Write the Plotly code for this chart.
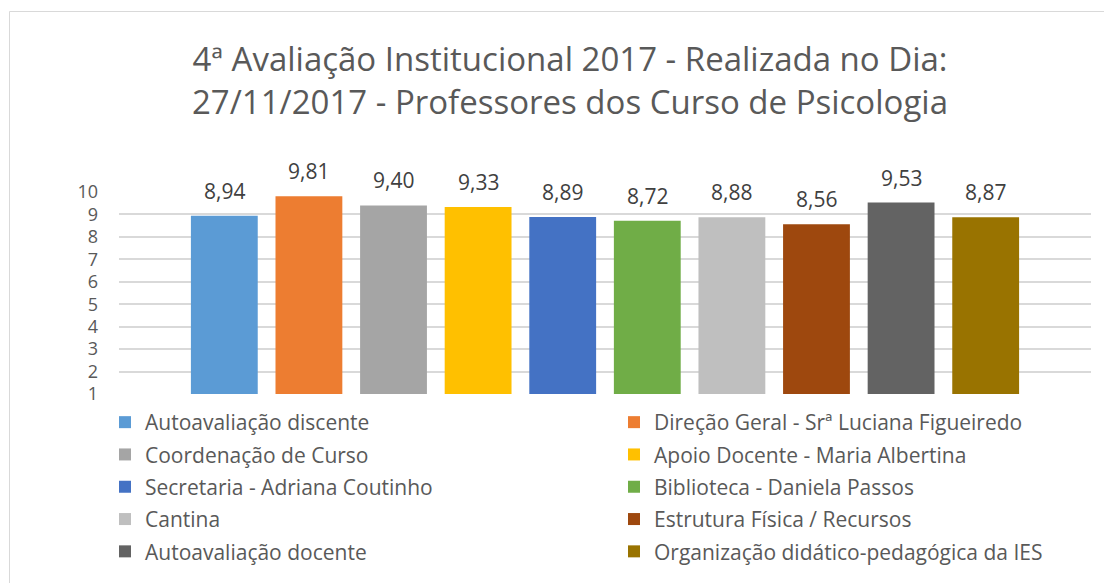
import plotly.graph_objects as go

categories = [
    "Autoavaliação discente",
    "Direção Geral - Srª Luciana Figueiredo",
    "Coordenação de Curso",
    "Apoio Docente - Maria Albertina",
    "Secretaria - Adriana Coutinho",
    "Biblioteca - Daniela Passos",
    "Cantina",
    "Estrutura Física / Recursos",
    "Autoavaliação docente",
    "Organização didático-pedagógica da IES",
]
values = [8.94, 9.81, 9.40, 9.33, 8.89, 8.72, 8.88, 8.56, 9.53, 8.87]
colors = ["#5B9BD5", "#ED7D31", "#A5A5A5", "#FFC000", "#4472C4",
          "#70AD47", "#BFBFBF", "#9E480E", "#636363", "#997300"]
y_ticks = [1, 2, 3, 4, 5, 6, 7, 8, 9, 10]

FONT = "Open Sans"
TXT = "#595959"

# the page body has an 8px margin, so the figure is 8px smaller
W, H = 1104, 575
L, R, T, B = 111, 21, 184, 189
pw, ph = W - L - R, H - T - B

fig = go.Figure()
for i, (name, v, c) in enumerate(zip(categories, values, colors)):
    fig.add_trace(go.Bar(
        x=[i], y=[v], name=name, marker=dict(color=c, line=dict(width=0)),
        width=0.79, hoverinfo="name+y",
        legend="legend" if i % 2 == 0 else "legend2",
        legendgroup=f"g{i}",
    ))
    fig.add_annotation(
        x=i, y=v, text=f"{v:.2f}".replace(".", ","), showarrow=False,
        yanchor="bottom", yshift=9, font=dict(family=FONT, size=21, color="#404040"),
    )

def px_x(p):
    return (p - L) / pw

def px_y(p):
    return (H - B - p) / ph

fig.add_shape(type="rect", xref="paper", yref="paper",
              x0=px_x(1.5), x1=px_x(1130), y0=px_y(600), y1=px_y(3.5),
              line=dict(color="#D9D9D9", width=1), fillcolor="rgba(0,0,0,0)", layer="below")

legend_common = dict(
    orientation="v", yanchor="top", traceorder="grouped", tracegroupgap=2,
    font=dict(family=FONT, size=21, color=TXT), itemclick=False,
    bgcolor="rgba(0,0,0,0)", xref="container", yref="container", xanchor="left",
)

fig.update_layout(
    width=W, height=H,
    margin=dict(l=L, r=R, t=T, b=B, autoexpand=False),
    paper_bgcolor="white", plot_bgcolor="white",
    separators=",.",
    title=dict(
        text="4ª Avaliação Institucional 2017 - Realizada no Dia:<br>27/11/2017 - Professores dos Curso de Psicologia",
        x=562 / W, xref="container", xanchor="center",
        y=1 - 63 / H, yref="container", yanchor="middle",
        font=dict(family=FONT, size=33, color=TXT),
    ),
    barmode="overlay",
    xaxis=dict(range=[-1.245, 10.245], showticklabels=False, showgrid=False,
               zeroline=False, showline=False, fixedrange=True, automargin=False),
    yaxis=dict(range=[1, 10], tickvals=y_ticks, showgrid=True, gridcolor="#D9D9D9",
               gridwidth=1.5, zeroline=False, showline=False, ticks="", automargin=False,
               tickfont=dict(family=FONT, size=18, color=TXT), ticklabelstandoff=20),
    showlegend=True,
    legend=dict(x=97 / W, y=1 - 394 / H, **legend_common),
    legend2=dict(x=606 / W, y=1 - 394 / H, **legend_common),
    font=dict(family=FONT, color=TXT),
)

fig.write_html("out.html")
